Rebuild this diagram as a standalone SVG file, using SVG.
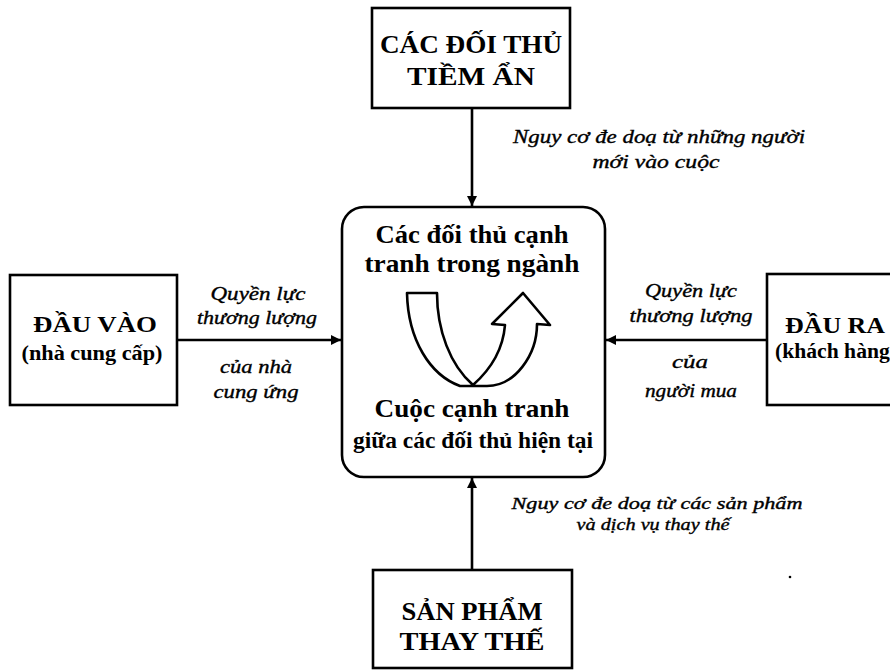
<svg xmlns="http://www.w3.org/2000/svg" width="890" height="671" viewBox="0 0 890 671">
<style type="text/css">
.box{fill:#fff;stroke:#000;stroke-width:2.6}
.conn{stroke:#000;stroke-width:2.6;fill:none}
.bt{font-family:'Liberation Serif','DejaVu Serif',serif;font-weight:bold;fill:#000;text-anchor:middle}
.it{font-family:'Liberation Serif','DejaVu Serif',serif;font-style:italic;font-size:18px;fill:#000;text-anchor:middle;stroke:#000;stroke-width:0.35}
</style>
<defs>
<marker id="ah" viewBox="0 0 10 10" refX="10" refY="5" markerWidth="4" markerHeight="4" orient="auto" markerUnits="strokeWidth">
<path d="M0,0 L10,5 L0,10 z" fill="#000"/>
</marker>
</defs>
<rect width="890" height="671" fill="#fff"/>

<g id="connectors">
<line class="conn" x1="472" y1="108" x2="472" y2="206" marker-end="url(#ah)"/>
<line class="conn" x1="472" y1="569" x2="472" y2="478" marker-end="url(#ah)"/>
<line class="conn" x1="177" y1="340" x2="341" y2="340" marker-end="url(#ah)"/>
<line class="conn" x1="767" y1="340" x2="606" y2="340" marker-end="url(#ah)"/>
</g>

<g id="top" font-family="Liberation Serif, DejaVu Serif, serif">
<rect class="box" x="372" y="8" width="198" height="100"/>
<text class="bt" x="471" y="53" font-size="26" textLength="182" lengthAdjust="spacingAndGlyphs">CÁC ĐỐI THỦ</text>
<text class="bt" x="471" y="85" font-size="26" textLength="128" lengthAdjust="spacingAndGlyphs">TIỀM ẨN</text>
</g>

<g id="top-label" font-family="Liberation Serif, DejaVu Serif, serif">
<text class="it" x="659" y="143" textLength="292" lengthAdjust="spacingAndGlyphs">Nguy cơ đe doạ từ những người</text>
<text class="it" x="656" y="168" textLength="127" lengthAdjust="spacingAndGlyphs">mới vào cuộc</text>
</g>

<g id="center" font-family="Liberation Serif, DejaVu Serif, serif">
<rect class="box" x="342" y="207" width="263" height="270" rx="22" ry="22"/>
<text class="bt" x="472" y="243" font-size="26" textLength="193" lengthAdjust="spacingAndGlyphs">Các đối thủ cạnh</text>
<text class="bt" x="472" y="272" font-size="26" textLength="215" lengthAdjust="spacingAndGlyphs">tranh trong ngành</text>
<path d="M407,293 L437,293 C437,330 450,365 473,385 C490,370 503,350 505,325 L492,324 L523,293 L550,325 L537,324 C537,355 515,386 487,386 L460,386 C430,375 408,340 407,293 Z" fill="#fff" stroke="#000" stroke-width="2.6" stroke-linejoin="round"/>
<text class="bt" x="472" y="417" font-size="26" textLength="195" lengthAdjust="spacingAndGlyphs">Cuộc cạnh tranh</text>
<text class="bt" x="473" y="448" font-size="24" textLength="240" lengthAdjust="spacingAndGlyphs">giữa các đối thủ hiện tại</text>
</g>

<g id="left" font-family="Liberation Serif, DejaVu Serif, serif">
<rect class="box" x="10" y="275" width="167" height="130"/>
<text class="bt" x="95" y="332" font-size="24" textLength="124" lengthAdjust="spacingAndGlyphs">ĐẦU VÀO</text>
<text class="bt" x="92" y="360" font-size="20" textLength="141" lengthAdjust="spacingAndGlyphs">(nhà cung cấp)</text>
</g>

<g id="left-label" font-family="Liberation Serif, DejaVu Serif, serif">
<text class="it" x="258" y="300" textLength="95" lengthAdjust="spacingAndGlyphs">Quyền lực</text>
<text class="it" x="257" y="324" textLength="120" lengthAdjust="spacingAndGlyphs">thương lượng</text>
<text class="it" x="256" y="373" textLength="72" lengthAdjust="spacingAndGlyphs">của nhà</text>
<text class="it" x="256" y="398" textLength="85" lengthAdjust="spacingAndGlyphs">cung ứng</text>
</g>

<g id="right" font-family="Liberation Serif, DejaVu Serif, serif">
<rect class="box" x="767" y="274" width="140" height="131"/>
<text class="bt" x="835" y="333" font-size="24" textLength="100" lengthAdjust="spacingAndGlyphs">ĐẦU RA</text>
<text class="bt" x="775" y="358" font-size="20" style="text-anchor:start" textLength="122" lengthAdjust="spacingAndGlyphs">(khách hàng)</text>
</g>

<g id="right-label" font-family="Liberation Serif, DejaVu Serif, serif">
<text class="it" x="691" y="297" textLength="92" lengthAdjust="spacingAndGlyphs">Quyền lực</text>
<text class="it" x="691" y="322" textLength="123" lengthAdjust="spacingAndGlyphs">thương lượng</text>
<text class="it" x="690" y="368" textLength="36" lengthAdjust="spacingAndGlyphs">của</text>
<text class="it" x="691" y="397" textLength="92" lengthAdjust="spacingAndGlyphs">người mua</text>
</g>

<g id="bottom" font-family="Liberation Serif, DejaVu Serif, serif">
<rect class="box" x="373" y="570" width="199" height="98"/>
<text class="bt" x="472" y="620" font-size="26" textLength="141" lengthAdjust="spacingAndGlyphs">SẢN PHẨM</text>
<text class="bt" x="472" y="650" font-size="26" textLength="145" lengthAdjust="spacingAndGlyphs">THAY THẾ</text>
</g>

<g id="bottom-label" font-family="Liberation Serif, DejaVu Serif, serif">
<text class="it" x="657" y="509" style="font-size:16px" textLength="291" lengthAdjust="spacingAndGlyphs">Nguy cơ đe doạ từ các sản phẩm</text>
<text class="it" x="653" y="530" style="font-size:16px" textLength="153" lengthAdjust="spacingAndGlyphs">và dịch vụ thay thế</text>
</g>

<circle cx="790" cy="577" r="1.3" fill="#000"/>
</svg>
